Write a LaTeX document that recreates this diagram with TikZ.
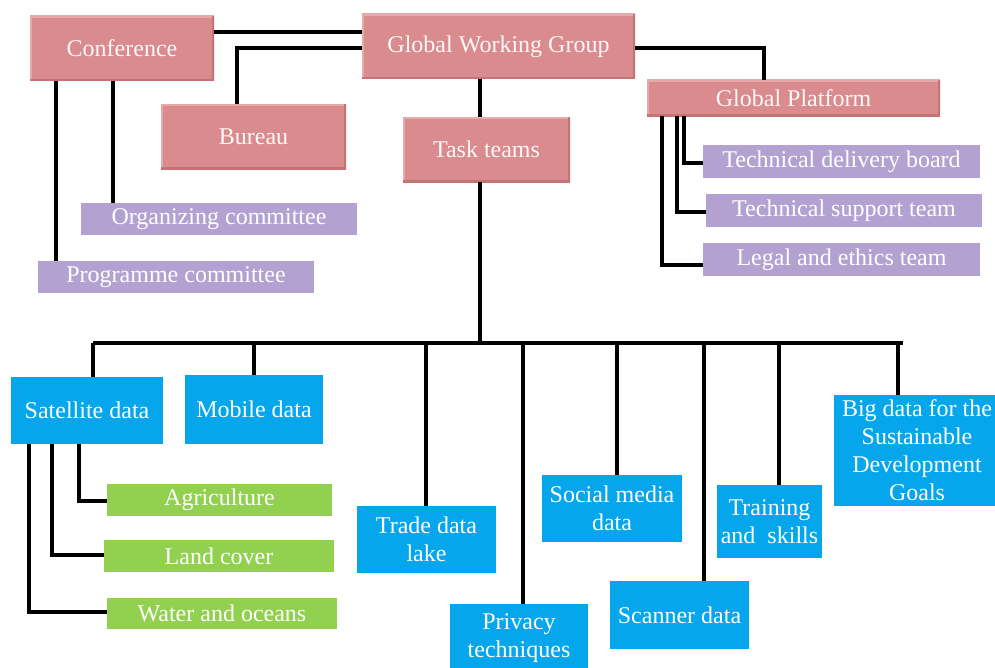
\documentclass[tikz,border=0pt]{standalone}
\usepackage{fontspec}
\setmainfont{Liberation Serif}
\definecolor{pinkF}{HTML}{D98B8D}
\definecolor{pinkL}{HTML}{E8A9AB}
\definecolor{pinkD}{HTML}{C47275}
\definecolor{lav}{HTML}{B3A2D1}
\definecolor{blueC}{HTML}{05A6EC}
\definecolor{greenC}{HTML}{92D050}
\begin{document}
\begin{tikzpicture}[x=0.75pt,y=-0.75pt,
  base/.style={inner sep=0pt, outer sep=0pt, text=white, font=\fontsize{18}{21}\selectfont, align=center},
  sz/.style 2 args={minimum width={#1*0.75pt}, minimum height={#2*0.75pt}},
  pinkbox/.style={base, fill=pinkF, text=white!94!pinkF, path picture={
     \draw[pinkL, line width=3pt] (path picture bounding box.south west) -- (path picture bounding box.north west) -- (path picture bounding box.north east);
     \draw[pinkD, line width=3pt] (path picture bounding box.north east) -- (path picture bounding box.south east) -- (path picture bounding box.south west);}},
  lavbox/.style={base, fill=lav},
  bluebox/.style={base, fill=blueC},
  greenbox/.style={base, fill=greenC},
  link/.style={line width=2.6pt, black, line join=miter}]
\path[use as bounding box, clip] (0,0) rectangle (995,667);
\fill[white] (0,0) rectangle (995,667);
% top level
\node[pinkbox, sz={184}{65}] (conf) at (122,48.5) {Conference};
\node[pinkbox, sz={273}{65}] (gwg) at (498.5,46.5) {Global Working Group};
\node[pinkbox, sz={185}{65}] (bur) at (253.5,136.5) {Bureau};
\node[pinkbox, sz={167}{65}] (task) at (486.5,149.5) {Task teams};
\node[pinkbox, sz={293}{36}] (gp) at (793.5,98) {Global Platform};
\node[lavbox, sz={277}{33}] (tdb) at (841.5,161.5) {Technical delivery board};
\node[lavbox, sz={276}{33}] (tst) at (844,210.5) {Technical support team};
\node[lavbox, sz={277}{33}] (let) at (841.5,259.5) {Legal and ethics team};
\node[lavbox, sz={276}{32}] (org) at (219,219) {Organizing committee};
\node[lavbox, sz={276}{32}] (prog) at (176,277) {Programme committee};
% task teams
\node[bluebox, sz={152}{67}] (sat) at (87,410.5) {Satellite data};
\node[bluebox, sz={138}{69}] (mob) at (254,409.5) {Mobile data};
\node[bluebox, sz={139}{67}] (trade) at (426.5,539.5) {Trade data\\lake};
\node[bluebox, sz={138}{68}] (priv) at (519,638) {Privacy\\techniques};
\node[bluebox, sz={140}{67}] (soc) at (612,508.5) {Social media\\data};
\node[bluebox, sz={139}{68}] (scan) at (679.5,615) {Scanner data};
\node[bluebox, sz={105}{73}] (train) at (769.5,521.5) {Training\\and\ \ skills};
\node[bluebox, sz={166}{111}] (big) at (917,450.5) {Big data for the\\Sustainable\\Development\\Goals};
\node[greenbox, sz={225}{32}] (agr) at (219.5,500) {Agriculture};
\node[greenbox, sz={230}{32}] (land) at (219,556) {Land cover};
\node[greenbox, sz={230}{31}] (wat) at (222,613.5) {Water and oceans};
% connectors top
\draw[link] (conf.east |- 0,32) -- (gwg.west |- 0,32);
\draw[link] (gwg.west |- 0,48) -| (bur.north -| 237,0);
\draw[link] (gwg.south -| 480,0) -- (task.north -| 480,0);
\draw[link] (gwg.east |- 0,48) -| (gp.north -| 764,0);
\draw[link] (conf.south -| 113,0) -- (org.north -| 113,0);
\draw[link] (conf.south -| 56,0) -- (prog.north -| 56,0);
\draw[link] (gp.south -| 684,0) |- (tdb.west |- 0,163);
\draw[link] (gp.south -| 677,0) |- (tst.west |- 0,212);
\draw[link] (gp.south -| 662,0) |- (let.west |- 0,265);
% bus
\coordinate (busL) at (93,343);
\coordinate (busR) at (903,343);
\coordinate (busT) at (480,343);
\draw[link] (task.south -| busT) -- (busT);
\draw[link] (busL) -- (busR);
\draw[link] (busL) -- (sat.north -| busL);
\draw[link] (mob.north -| 254,0) -- (254,343);
\draw[link] (trade.north -| 426,0) -- (426,343);
\draw[link] (priv.north -| 523,0) -- (523,343);
\draw[link] (soc.north -| 617,0) -- (617,343);
\draw[link] (scan.north -| 704,0) -- (704,343);
\draw[link] (train.north -| 779,0) -- (779,343);
\draw[link] (big.north -| 898,0) -- (898,343);
% satellite sub
\draw[link] (sat.south -| 79,0) |- (agr.west |- 0,501);
\draw[link] (sat.south -| 52,0) |- (land.west |- 0,555);
\draw[link] (sat.south -| 29,0) |- (wat.west |- 0,612);
\end{tikzpicture}
\end{document}
